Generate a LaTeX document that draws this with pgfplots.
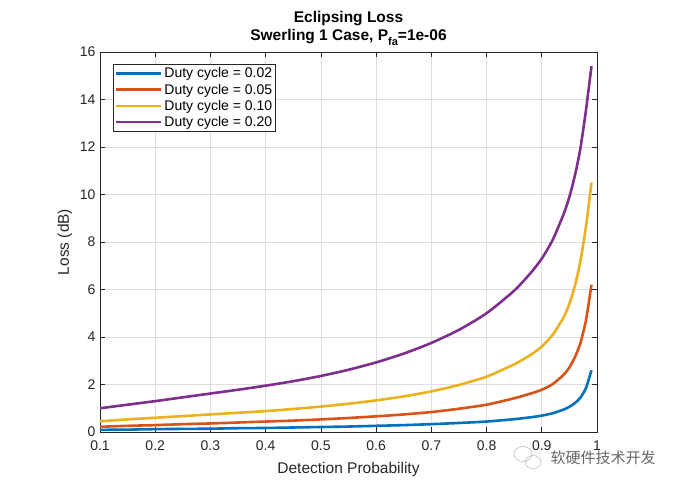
\documentclass[border=0pt]{standalone}
\usepackage{fontspec}
\setmainfont{Liberation Sans}
\newfontfamily\cjk{Noto Sans CJK SC}
\usepackage{pgfplots}
\usepackage{pgfplotstable}
\pgfplotsset{compat=1.18}

\definecolor{mblue}{rgb}{0,0.447,0.741}
\definecolor{morange}{rgb}{0.85,0.325,0.098}
\definecolor{myellow}{rgb}{0.929,0.694,0.125}
\definecolor{mpurple}{rgb}{0.494,0.184,0.556}
\definecolor{axgray}{RGB}{38,38,38}

% eclipsing loss (dB)
\pgfplotstableread{
pd    d02   d05   d10   d20
0.10  0.09  0.22  0.45  1.00
0.15  0.10  0.26  0.53  1.15
0.20  0.12  0.29  0.60  1.30
0.25  0.13  0.33  0.67  1.46
0.30  0.14  0.36  0.74  1.62
0.35  0.16  0.40  0.81  1.78
0.40  0.17  0.44  0.88  1.95
0.45  0.19  0.48  0.97  2.14
0.50  0.21  0.53  1.07  2.36
0.55  0.23  0.59  1.19  2.62
0.60  0.26  0.66  1.33  2.93
0.65  0.29  0.74  1.50  3.30
0.70  0.33  0.84  1.71  3.75
0.75  0.38  0.98  1.98  4.30
0.80  0.44  1.15  2.33  5.00
0.85  0.54  1.42  2.85  5.95
0.88  0.62  1.62  3.25  6.70
0.90  0.69  1.78  3.60  7.30
0.92  0.79  2.02  4.10  8.10
0.94  0.95  2.42  4.85  9.20
0.95  1.06  2.72  5.40  9.90
0.96  1.22  3.15  6.15  10.80
0.97  1.45  3.75  7.20  11.95
0.98  1.85  4.70  8.65  13.55
0.99  2.60  6.20  10.50 15.40
}\losstab

\begin{document}
\begin{tikzpicture}
\begin{axis}[
    scale only axis,
    width=497pt, height=380pt,
    xmin=0.1, xmax=1, ymin=0, ymax=16,
    xtick={0.1,0.2,...,1.0}, ytick={0,2,...,16},
    xticklabels={0.1,0.2,0.3,0.4,0.5,0.6,0.7,0.8,0.9,1},
    tick align=inside,
    major tick length=5pt,
    axis line style={axgray, line width=0.6pt},
    tick style={axgray, line width=0.6pt},
    grid=major,
    major grid style={black!13, line width=0.6pt},
    tick label style={font=\fontsize{14}{16}\selectfont, text=axgray},
    /pgf/number format/assume math mode=true,
    xticklabel style={yshift=-5pt},
    yticklabel style={xshift=-1pt},
    xlabel={Detection Probability},
    ylabel={Loss (dB)},
    label style={font=\fontsize{15.5}{18}\selectfont, text=axgray},
    xlabel style={yshift=-5pt},
    ylabel style={yshift=1pt},
    title={\bfseries Eclipsing Loss\\\bfseries Swerling 1 Case, P\raisebox{-4.5pt}{\fontsize{11}{12}\selectfont\bfseries fa}=1e-06},
    title style={align=center, font=\fontsize{15.5}{18}\selectfont, yshift=-3pt},
    legend style={at={(rel axis cs:0,1)}, anchor=north west, xshift=13pt, yshift=-12pt,
        font=\fontsize{14}{16}\selectfont, draw=axgray, line width=0.6pt,
        inner sep=1.5pt, row sep=0.5pt, cells={anchor=west}},
    legend image code/.code={\draw[#1, line width=2.6pt] (0pt,0pt) -- (45pt,0pt);},
    every axis plot/.append style={line width=2.6pt, smooth, tension=0.4},
]
\addplot[mblue] table[x=pd, y=d02] {\losstab};
\addplot[morange] table[x=pd, y=d05] {\losstab};
\addplot[myellow] table[x=pd, y=d10] {\losstab};
\addplot[mpurple] table[x=pd, y=d20] {\losstab};
\legend{Duty cycle = 0.02, Duty cycle = 0.05, Duty cycle = 0.10, Duty cycle = 0.20}
\end{axis}
% watermark
\node[anchor=west, text=black!60, font=\cjk\fontsize{15}{17}\selectfont] at ([xshift=447pt,yshift=-26pt]current axis.south west) {软硬件技术开发};
\draw[black!25, line width=0.6pt] ([xshift=423pt,yshift=-22pt]current axis.south west) ellipse (9pt and 7.5pt);
\draw[black!25, line width=0.6pt] ([xshift=433pt,yshift=-30pt]current axis.south west) ellipse (8pt and 6.5pt);
% full picture frame
\path (current axis.south west) ++(-100pt,-55pt) rectangle ++(679pt,487pt);
\end{tikzpicture}
\end{document}
